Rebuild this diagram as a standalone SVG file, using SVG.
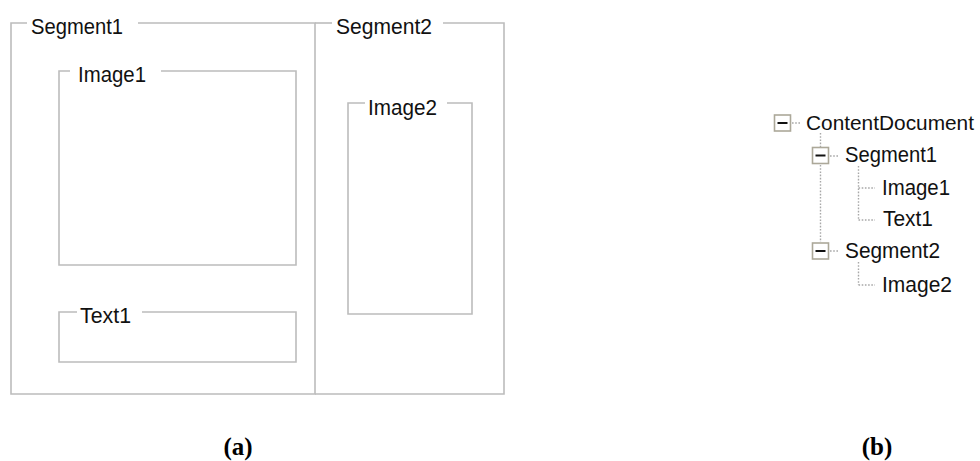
<svg xmlns="http://www.w3.org/2000/svg" width="980" height="461" viewBox="0 0 980 461">
<style>
.frame{fill:none;stroke:#bcbcbc;stroke-width:1.6;}
.lbl{font-family:"Liberation Sans",Arial,sans-serif;font-size:22px;fill:#111;}
.cap{font-family:"Liberation Serif","Times New Roman",serif;font-size:25px;font-weight:bold;fill:#000;text-anchor:middle;}
.dot{fill:none;stroke:#a8a8a8;stroke-width:1.4;stroke-dasharray:1.6 1.6;}
.box{fill:#fff;stroke:#aca899;stroke-width:1.6;}
.minus{stroke:#111;stroke-width:2;}
</style>
<rect width="980" height="461" fill="#fff"/>

<g id="layout">
  <g id="segment1">
    <polyline class="frame" points="27,23 11,23 11,394 315,394 315,23 138,23"/>
    <text class="lbl" x="31" y="34" textLength="92" lengthAdjust="spacingAndGlyphs">Segment1</text>
  </g>
  <g id="image1">
    <polyline class="frame" points="70,71 59,71 59,265 296,265 296,71 161,71"/>
    <text class="lbl" x="78" y="82" textLength="68" lengthAdjust="spacingAndGlyphs">Image1</text>
  </g>
  <g id="text1">
    <polyline class="frame" points="77,312 59,312 59,362 296,362 296,312 142,312"/>
    <text class="lbl" x="80" y="323" textLength="51" lengthAdjust="spacingAndGlyphs">Text1</text>
  </g>
  <g id="segment2">
    <polyline class="frame" points="315,23 332,23"/>
    <polyline class="frame" points="443,23 504,23 504,394 315,394"/>
    <text class="lbl" x="336" y="34" textLength="96" lengthAdjust="spacingAndGlyphs">Segment2</text>
  </g>
  <g id="image2">
    <polyline class="frame" points="365,103 348,103 348,314 472,314 472,103 447,103"/>
    <text class="lbl" x="368" y="115" textLength="69" lengthAdjust="spacingAndGlyphs">Image2</text>
  </g>
</g>

<g id="connectors">
  <line class="dot" x1="792" y1="123" x2="800" y2="123"/>
  <line class="dot" x1="820.5" y1="133" x2="820.5" y2="242"/>
  <line class="dot" x1="830" y1="156" x2="838" y2="156"/>
  <line class="dot" x1="858.5" y1="166" x2="858.5" y2="220"/>
  <line class="dot" x1="858.5" y1="188" x2="875" y2="188"/>
  <line class="dot" x1="858.5" y1="220" x2="875" y2="220"/>
  <line class="dot" x1="830" y1="251" x2="838" y2="251"/>
  <line class="dot" x1="858.5" y1="262" x2="858.5" y2="285"/>
  <line class="dot" x1="858.5" y1="285" x2="875" y2="285"/>
</g>

<g id="tree-contentdocument">
  <rect class="box" x="774.5" y="115" width="16" height="16"/>
  <line class="minus" x1="777.5" y1="123" x2="787.5" y2="123"/>
  <text class="lbl" x="806" y="130" style="font-size:21px" textLength="168" lengthAdjust="spacingAndGlyphs">ContentDocument</text>
</g>
<g id="tree-segment1">
  <rect class="box" x="812.5" y="147.5" width="16" height="16"/>
  <line class="minus" x1="815.5" y1="155.5" x2="825.5" y2="155.5"/>
  <text class="lbl" x="845" y="162" textLength="92" lengthAdjust="spacingAndGlyphs">Segment1</text>
</g>
<g id="tree-image1">
  <text class="lbl" x="882" y="194.5" textLength="68" lengthAdjust="spacingAndGlyphs">Image1</text>
</g>
<g id="tree-text1">
  <text class="lbl" x="883" y="226" textLength="50" lengthAdjust="spacingAndGlyphs">Text1</text>
</g>
<g id="tree-segment2">
  <rect class="box" x="812.5" y="243" width="16" height="16"/>
  <line class="minus" x1="815.5" y1="251" x2="825.5" y2="251"/>
  <text class="lbl" x="845" y="258" textLength="95" lengthAdjust="spacingAndGlyphs">Segment2</text>
</g>
<g id="tree-image2">
  <text class="lbl" x="882" y="291.5" textLength="70" lengthAdjust="spacingAndGlyphs">Image2</text>
</g>

<text class="cap" x="238" y="455">(a)</text>
<text class="cap" x="877" y="455">(b)</text>
</svg>
